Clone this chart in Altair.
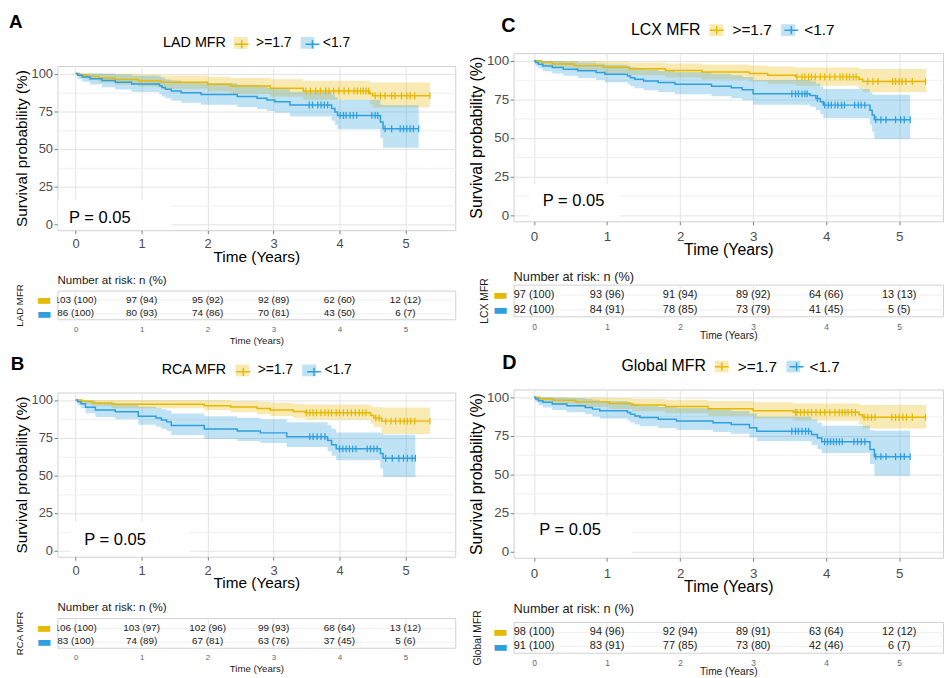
import altair as alt
import pandas as pd

FONT = "Liberation Sans"
GROUPS = [">=1.7", "<1.7"]
YEL, BLU = "#E7B800", "#2E9FDF"
YEL_F, BLU_F = "rgba(231,184,0,0.30)", "rgba(46,159,223,0.30)"
FRAME = "#d0d0d0"
XTICKS = [0, 0.5, 1, 1.5, 2, 2.5, 3, 3.5, 4, 4.5, 5, 5.5]
YTICKS = [0, 12.5, 25, 37.5, 50, 62.5, 75, 87.5, 100]
YEARS = [0, 1, 2, 3, 4, 5]

# ---------------- Panel A : LAD ----------------
A_HI_T = [0, 0.06, 0.18, 0.35, 0.6, 0.95, 1.3, 2.0, 2.35, 2.95, 3.45, 4.46, 4.5]
A_HI_S = [100, 99.0, 98.1, 97.1, 96.1, 95.1, 94.2, 92.8, 91.7, 90.2, 88.4, 86.8, 85.2]
A_HI_LO = [100, 97.1, 95.5, 94.0, 92.6, 91.2, 89.9, 88.1, 86.6, 84.6, 82.6, 80.0, 77.5]
A_HI_UP = [100, 100, 100, 100, 99.8, 99.2, 98.6, 97.8, 97.0, 96.2, 95.2, 94.2, 94.0]
A_HI_END = 5.37
A_LO_T = [0, 0.03, 0.1, 0.22, 0.4, 0.6, 0.85, 1.27, 1.31, 1.36, 1.45, 1.6, 1.9, 2.45, 2.75, 2.9, 3.02, 3.25, 3.88, 3.93, 3.97, 4.62, 4.66]
A_LO_S = [100, 98.8, 97.7, 96.5, 95.3, 94.2, 93.0, 91.9, 90.7, 89.5, 88.4, 87.2, 86.0, 84.8, 83.6, 82.5, 81.3, 79.1, 76.8, 74.5, 72.2, 67.8, 63.3]
A_LO_LO = [100, 96.6, 94.6, 92.7, 90.9, 89.4, 87.8, 86.3, 84.8, 83.4, 82.0, 80.6, 79.2, 77.8, 76.5, 75.2, 73.9, 71.4, 68.6, 65.8, 63.0, 57.0, 50.8]
A_LO_UP = [100, 100, 100, 100, 99.9, 99.3, 98.5, 97.8, 97.0, 96.1, 95.3, 94.4, 93.5, 92.5, 91.5, 90.6, 89.6, 87.8, 86.0, 84.3, 82.6, 79.2, 79.0]
A_LO_END = 5.2
A_HI_CENS = [(88.4, [3.49, 3.56, 3.64, 3.71, 3.79, 3.84, 3.91, 3.99, 4.07, 4.14, 4.22, 4.27, 4.32, 4.36, 4.4, 4.44]),
             (85.2, [4.54, 4.62, 4.69, 4.79, 4.84, 4.94, 5.02, 5.07, 5.14, 5.37])]
A_LO_CENS = [(79.1, [3.54, 3.59, 3.67, 3.72, 3.77, 3.82]),
             (72.2, [4.01, 4.06, 4.1, 4.16, 4.21, 4.26, 4.49, 4.54, 4.58]),
             (63.3, [4.69, 4.79, 4.92, 4.97, 5.02, 5.07, 5.12, 5.2])]
A_RISK_HI = ["103 (100)", "97 (94)", "95 (92)", "92 (89)", "62 (60)", "12 (12)"]
A_RISK_LO = ["86 (100)", "80 (93)", "74 (86)", "70 (81)", "43 (50)", "6 (7)"]
A_P = (-0.1, 4.0)
A_BOX = (-0.27, 1.45, -3.6, 16)

# ---------------- Panel C : LCX ----------------
C_HI_T = [0, 0.1, 0.25, 0.55, 0.95, 1.3, 1.8, 2.3, 2.95, 3.2, 3.58, 4.45, 4.5]
C_HI_S = [100, 99.0, 97.9, 96.9, 95.9, 94.8, 93.8, 92.8, 91.8, 90.7, 89.6, 88.0, 86.6]
C_HI_LO = [100, 97.1, 95.3, 93.6, 92.0, 90.6, 89.2, 87.9, 86.6, 85.2, 83.9, 81.8, 79.8]
C_HI_UP = [100, 100, 100, 99.9, 99.4, 98.9, 98.3, 97.7, 97.0, 96.3, 95.6, 94.9, 94.7]
C_HI_END = 5.37
C_LO_T = [0, 0.02, 0.06, 0.12, 0.25, 0.4, 0.6, 0.85, 0.97, 1.28, 1.32, 1.38, 1.5, 1.7, 1.93, 2.43, 2.7, 2.85, 3.0, 3.78, 3.86, 3.92, 3.96, 4.6, 4.63, 4.66]
C_LO_S = [100, 98.9, 97.8, 96.7, 95.7, 94.6, 93.5, 92.4, 91.3, 90.2, 89.1, 88.0, 86.9, 85.9, 84.8, 83.6, 82.5, 81.3, 78.6, 77.6, 75.6, 73.5, 71.3, 68.0, 64.9, 61.8]
C_LO_LO = [100, 96.7, 95.0, 93.3, 91.8, 90.3, 88.9, 87.5, 86.1, 84.8, 83.5, 82.2, 80.9, 79.7, 78.4, 77.0, 75.8, 74.4, 71.6, 70.3, 67.9, 65.4, 63.0, 58.5, 54.0, 49.3]
C_LO_UP = [100, 100, 100, 100, 99.9, 99.5, 98.9, 98.2, 97.4, 96.6, 95.8, 95.0, 94.2, 93.4, 92.6, 91.6, 90.6, 89.6, 87.5, 86.8, 85.2, 83.4, 81.7, 79.5, 78.3, 78.0]
C_LO_END = 5.15
C_HI_CENS = [(89.6, [3.6, 3.67, 3.71, 3.76, 3.8, 3.85, 3.92, 3.98, 4.05, 4.12, 4.19, 4.23, 4.28, 4.32, 4.37, 4.41]),
             (86.6, [4.57, 4.64, 4.71, 4.91, 4.95, 5.0, 5.04, 5.09, 5.18, 5.36])]
C_LO_CENS = [(78.6, [3.53, 3.58, 3.62, 3.67, 3.71, 3.74]),
             (75.6, [3.88]),
             (71.3, [3.98, 4.03, 4.07, 4.12, 4.16, 4.21, 4.25, 4.39, 4.44, 4.48, 4.53]),
             (61.8, [4.68, 4.75, 4.82, 4.95, 5.02, 5.07, 5.15])]
C_RISK_HI = ["97 (100)", "93 (96)", "91 (94)", "89 (92)", "64 (66)", "13 (13)"]
C_RISK_LO = ["92 (100)", "84 (91)", "78 (85)", "73 (79)", "41 (45)", "5 (5)"]
C_P = (0.12, 9.3)
C_BOX = (-0.07, 1.18, -3.6, 20)

# ---------------- Panel B : RCA ----------------
B_HI_T = [0, 0.1, 0.25, 0.55, 1.95, 2.35, 2.75, 2.95, 3.3, 3.48, 4.47, 4.52, 4.64]
B_HI_S = [100, 99.1, 98.1, 97.2, 96.2, 95.3, 94.3, 93.4, 92.4, 91.5, 89.7, 88.0, 86.0]
B_HI_LO = [100, 97.4, 95.9, 94.6, 93.2, 91.9, 90.6, 89.4, 88.1, 86.9, 84.5, 81.9, 77.4]
B_HI_UP = [100, 100, 100, 100, 99.9, 99.4, 98.8, 98.2, 97.6, 97.0, 95.9, 95.3, 95.0]
B_HI_END = 5.37
B_LO_T = [0, 0.03, 0.08, 0.15, 0.3, 0.6, 0.95, 1.22, 1.3, 1.38, 1.45, 1.95, 2.45, 2.8, 3.2, 3.82, 3.88, 3.95, 4.62, 4.66]
B_LO_S = [100, 98.8, 97.6, 95.2, 93.4, 92.2, 89.2, 88.0, 86.7, 85.5, 83.1, 80.7, 79.4, 78.2, 75.7, 73.1, 70.3, 67.6, 64.5, 61.4]
B_LO_LO = [100, 96.5, 94.5, 91.2, 88.8, 87.3, 83.6, 82.2, 80.8, 79.4, 76.8, 74.2, 72.8, 71.5, 68.8, 66.0, 63.0, 60.0, 54.5, 49.0]
B_LO_UP = [100, 100, 100, 99.8, 98.4, 97.6, 95.5, 94.7, 93.8, 93.0, 91.1, 89.3, 88.2, 87.2, 85.3, 83.3, 81.0, 78.5, 77.8, 77.0]
B_LO_END = 5.15
B_HI_CENS = [(91.5, [3.5, 3.55, 3.6, 3.65, 3.72, 3.78, 3.83, 3.88, 3.95, 4.0, 4.06, 4.12, 4.18, 4.24, 4.3, 4.35, 4.4]),
             (88.0, [4.55, 4.6]),
             (86.0, [4.7, 4.78, 4.85, 4.92, 4.98, 5.03, 5.08, 5.14, 5.37])]
B_LO_CENS = [(75.7, [3.55, 3.6, 3.66, 3.72, 3.78]),
             (67.6, [4.0, 4.05, 4.1, 4.15, 4.2, 4.25, 4.42, 4.47, 4.52, 4.57]),
             (61.4, [4.7, 4.8, 4.9, 4.97, 5.03, 5.1, 5.15])]
B_RISK_HI = ["106 (100)", "103 (97)", "102 (96)", "99 (93)", "68 (64)", "13 (12)"]
B_RISK_LO = ["83 (100)", "74 (89)", "67 (81)", "63 (76)", "37 (45)", "5 (6)"]
B_P = (0.13, 7.4)
B_BOX = (-0.08, 1.73, -3.6, 19)

# ---------------- Panel D : Global ----------------
D_HI_T = [0, 0.08, 0.26, 0.57, 1.03, 1.34, 1.8, 2.38, 3.0, 3.55, 4.45, 4.5]
D_HI_S = [100, 99.0, 98.0, 97.0, 96.0, 95.0, 94.0, 92.6, 91.3, 90.2, 88.6, 87.0]
D_HI_LO = [100, 97.2, 95.4, 93.8, 92.3, 90.9, 89.6, 87.9, 86.2, 84.8, 82.3, 79.8]
D_HI_UP = [100, 100, 100, 99.9, 99.5, 99.0, 98.4, 97.5, 96.8, 96.0, 95.2, 95.0]
D_HI_END = 5.37
D_LO_T = [0, 0.02, 0.06, 0.12, 0.25, 0.45, 0.7, 0.8, 0.9, 1.28, 1.32, 1.38, 1.45, 1.7, 1.95, 2.45, 2.7, 2.95, 3.05, 3.8, 3.88, 3.94, 4.6, 4.66]
D_LO_S = [100, 98.9, 97.8, 96.7, 95.6, 94.5, 93.4, 92.3, 91.2, 90.1, 89.0, 87.9, 86.8, 85.7, 84.6, 83.5, 82.4, 80.2, 78.0, 75.9, 73.6, 71.2, 66.2, 61.5]
D_LO_LO = [100, 96.7, 95.0, 93.3, 91.8, 90.3, 88.9, 87.6, 86.3, 85.0, 83.7, 82.4, 81.2, 80.0, 78.8, 77.5, 76.3, 73.9, 71.6, 69.1, 66.5, 63.8, 56.7, 49.2]
D_LO_UP = [100, 100, 100, 100, 99.9, 99.5, 98.9, 98.3, 97.6, 96.9, 96.1, 95.3, 94.5, 93.7, 92.9, 92.0, 91.1, 89.3, 87.4, 85.6, 83.6, 81.5, 78.6, 78.3]
D_LO_END = 5.15
D_HI_CENS = [(90.2, [3.58, 3.6, 3.65, 3.7, 3.75, 3.8, 3.86, 3.92, 3.98, 4.05, 4.12, 4.18, 4.22, 4.26, 4.3, 4.35, 4.4]),
             (87.0, [4.52, 4.57, 4.62, 4.67, 4.9, 4.95, 5.0, 5.05, 5.1, 5.18, 5.36])]
D_LO_CENS = [(78.0, [3.53, 3.58, 3.62, 3.67, 3.72, 3.76]),
             (71.2, [3.98, 4.02, 4.06, 4.1, 4.14, 4.18, 4.22, 4.38, 4.43, 4.48, 4.53]),
             (61.5, [4.68, 4.75, 4.82, 4.95, 5.02, 5.07, 5.15])]
D_RISK_HI = ["98 (100)", "94 (96)", "92 (94)", "89 (91)", "63 (64)", "12 (12)"]
D_RISK_LO = ["91 (100)", "83 (91)", "77 (85)", "73 (80)", "42 (46)", "6 (7)"]
D_P = (0.07, 13.8)
D_BOX = (-0.24, 1.34, -3.6, 23)

# ---------------- layout constants ----------------
W_L, W_R = 402, 434
XDOM_L = [-0.275, 5.754]
XDOM_R = [-0.28, 5.6]
FS_L = dict(leg_t=14.5, leg_l=14, ax_t=15.5, ax_l=13, p=16.7, letter=19, tab=10, head=11.7, tab_l=8,
            tab_t=9.7, tab_yt=9.8, xlabpad=4, head_off=-3, tab_tpad=2)
FS_R = dict(leg_t=16, leg_l=15.5, ax_t=16, ax_l=13.5, p=16.7, letter=20, tab=11, head=12.9, tab_l=8.5,
            tab_t=10.3, tab_yt=10.5, xlabpad=5, head_off=-6, tab_tpad=0)

MINOR_TEST = "datum.value % 1 != 0"


def curve_rows(t, s, lo, up, end, grp):
    rows = [dict(t=a, s=b, lo=c, up=d, grp=grp) for a, b, c, d in zip(t, s, lo, up)]
    rows.append(dict(t=end, s=s[-1], lo=lo[-1], up=up[-1], grp=grp))
    return rows


def cens_rows(cens, grp):
    return [dict(t=tt, s=lvl, grp=grp) for lvl, ts in cens for tt in ts]


def km_panel(letter, mfr, hi, lo, pval, box, W, H, xdom, fs, leg_xy, let_dxdy):
    curve = pd.DataFrame(curve_rows(*hi[:5], GROUPS[0]) + curve_rows(*lo[:5], GROUPS[1]))
    cens = pd.DataFrame(cens_rows(hi[5], GROUPS[0]) + cens_rows(lo[5], GROUPS[1]))
    pdf = pd.DataFrame({"px": [pval[0]], "py": [pval[1]], "txt": ["P = 0.05"]})
    bdf = pd.DataFrame({"bx": [box[0]], "bx2": [box[1]], "by": [box[2]], "by2": [box[3]]})

    xs = alt.Scale(domain=xdom, nice=False, zero=False)
    ys = alt.Scale(domain=[-4, 105], nice=False, zero=False)
    grid_col = {"condition": {"test": MINOR_TEST, "value": "#f0f0f0"}, "value": "#e3e3e3"}
    tick_col = {"condition": {"test": MINOR_TEST, "value": "transparent"}, "value": "#808080"}
    xax = alt.Axis(values=XTICKS, format="d", labelExpr="datum.value % 1 ? '' : datum.label",
                   labelFont=FONT, labelFontSize=fs["ax_l"], labelColor="#4d4d4d", labelPadding=fs["xlabpad"],
                   labelFlush=False, labelOverlap=False, tickSize=3.5, tickColor=tick_col, tickWidth=1,
                   domain=False, grid=True, gridColor=grid_col,
                   titleFont=FONT, titleFontSize=fs["ax_t"], titleFontWeight="normal", titleColor="black",
                   titlePadding=-1)
    ygrid = {"condition": {"test": "datum.value % 25 != 0", "value": "#f0f0f0"}, "value": "#e3e3e3"}
    ytick = {"condition": {"test": "datum.value % 25 != 0", "value": "transparent"}, "value": "#808080"}
    yax = alt.Axis(values=YTICKS, format="d", labelExpr="datum.value % 25 ? '' : datum.label",
                   labelFont=FONT, labelFontSize=fs["ax_l"], labelColor="#4d4d4d", labelPadding=1.5,
                   labelFlush=False, labelOverlap=False, tickSize=3.5, tickColor=ytick, tickWidth=1,
                   domain=False, grid=True, gridColor=ygrid,
                   titleFont=FONT, titleFontSize=fs["ax_t"], titleFontWeight="normal", titleColor="black",
                   titlePadding=2)

    def X(f):
        return alt.X(f, type="quantitative", scale=xs, axis=xax, title="Time (Years)")

    def Y(f):
        return alt.Y(f, type="quantitative", scale=ys, axis=yax, title="Survival probability (%)")

    common = dict(orient="none", legendX=leg_xy[0], legendY=leg_xy[1], direction="horizontal",
                  title=mfr, titleOrient="left", titleFont=FONT, titleFontSize=fs["leg_t"],
                  titleFontWeight="normal", titleAnchor="middle", titleBaseline="middle",
                  titlePadding=7.5, labelFont=FONT, labelFontSize=fs["leg_l"], labelOffset=8.5,
                  columnPadding=8.5, symbolSize=196, padding=0, offset=0)
    fill_leg = alt.Legend(symbolType="M-1,-0.85H1V0.85H-1Z", symbolStrokeWidth=0, symbolOpacity=1,
                          labelColor="black", titleColor="black", **common)
    stroke_leg = alt.Legend(symbolType="M-1,0H1M0,-0.6V0.6", symbolStrokeWidth=1.5,
                            symbolFillColor="transparent", symbolOpacity=1,
                            labelColor="transparent", titleColor="transparent", **common)
    stroke = alt.Stroke("grp:N", scale=alt.Scale(domain=GROUPS, range=[YEL, BLU]), legend=stroke_leg)
    fill = alt.Fill("grp:N", sort=GROUPS, scale=alt.Scale(range=[YEL_F, BLU_F]), legend=fill_leg)

    wbox = alt.Chart(bdf).mark_rect(color="white").encode(
        x=X("bx"), x2="bx2:Q", y=Y("by"), y2="by2:Q")
    band = alt.Chart(curve).mark_area(interpolate="step-after", opacity=1).encode(
        x=X("t"), y=Y("lo"), y2="up:Q", fill=fill)
    line = alt.Chart(curve).mark_line(interpolate="step-after", strokeWidth=1.5).encode(
        x=X("t"), y=Y("s"), stroke=stroke)
    pts = alt.Chart(cens).mark_point(shape="M0,-1V1", filled=False, size=49, strokeWidth=1.3, opacity=1).encode(
        x=X("t"), y=Y("s"), stroke=stroke)
    ptxt = alt.Chart(pdf).mark_text(align="left", baseline="middle", font=FONT, fontSize=fs["p"],
                                     color="black").encode(x=X("px"), y=Y("py"), text="txt:N")
    return alt.layer(wbox, band, line, pts, ptxt).properties(
        width=W, height=H,
        title=alt.TitleParams(letter, anchor="start", frame="group", font=FONT, fontSize=fs["letter"],
                              fontWeight="bold", color="black", dx=let_dxdy[0], dy=let_dxdy[1], offset=0),
        view=alt.ViewBackground(stroke=FRAME, strokeWidth=1),
    )


def risk_panel(mfr, hi_lab, lo_lab, W, H, xdom, fs, ytpad):
    rows = [dict(t=y, grp=GROUPS[0], lab=l) for y, l in zip(YEARS, hi_lab)] + \
           [dict(t=y, grp=GROUPS[1], lab=l) for y, l in zip(YEARS, lo_lab)]
    df = pd.DataFrame(rows)
    grid_col = {"condition": {"test": MINOR_TEST, "value": "#f3f3f3"}, "value": "#e8e8e8"}
    xax = alt.Axis(values=XTICKS, format="d", labelExpr="datum.value % 1 ? '' : datum.label",
                   labelFont=FONT, labelFontSize=fs["tab_l"], labelColor="#666666", labelPadding=6,
                   labelFlush=False, labelOverlap=False, ticks=False, tickSize=0, domain=False,
                   grid=True, gridColor=grid_col, title="Time (Years)", titleFont=FONT,
                   titleFontSize=fs["tab_t"], titleFontWeight="normal", titleColor="#1a1a1a",
                   titlePadding=fs["tab_tpad"])
    lab_col = {"condition": {"test": "datum.value === '>=1.7'", "value": YEL}, "value": BLU}
    yax = alt.Axis(labelExpr="'\u25ac'", labelFont="DejaVu Sans", labelFontSize=16, labelColor=lab_col,
                   ticks=False, tickSize=0, domain=False, grid=True, gridColor="#f0f0f0", labelPadding=6,
                   title=mfr, titleFont=FONT, titleFontSize=fs["tab_yt"], titleFontWeight="normal",
                   titleColor="#1a1a1a", titlePadding=ytpad)
    return alt.Chart(df).mark_text(clip=True, font=FONT, fontSize=fs["tab"], color="#1a1a1a").encode(
        x=alt.X("t:Q", scale=alt.Scale(domain=xdom, nice=False, zero=False), axis=xax),
        y=alt.Y("grp:N", scale=alt.Scale(type="point", domain=GROUPS, padding=0.57, align=0.6), axis=yax),
        text="lab:N",
    ).properties(
        width=W, height=H,
        title=alt.TitleParams("Number at risk: n (%)", anchor="start", frame="group", font=FONT,
                              fontSize=fs["head"], fontWeight="normal", color="#1a1a1a",
                              offset=fs["head_off"]),
        view=alt.ViewBackground(stroke=FRAME, strokeWidth=1),
    )


def spacer(W, h):
    return alt.Chart(pd.DataFrame({"v": [0]})).mark_point(opacity=0).encode(
        x=alt.X("v:Q", axis=None), y=alt.Y("v:Q", axis=None)
    ).properties(width=W, height=h, view=alt.ViewBackground(stroke=None))


plotA = km_panel("A", "LAD MFR", (A_HI_T, A_HI_S, A_HI_LO, A_HI_UP, A_HI_END, A_HI_CENS),
                 (A_LO_T, A_LO_S, A_LO_LO, A_LO_UP, A_LO_END, A_LO_CENS), A_P, A_BOX,
                 W_L, 166, XDOM_L, FS_L, (106.7, -30.3), (-49, -4.5))
tabA = risk_panel("LAD MFR", A_RISK_HI, A_RISK_LO, W_L, 29, XDOM_L, FS_L, 12.5)
plotB = km_panel("B", "RCA MFR", (B_HI_T, B_HI_S, B_HI_LO, B_HI_UP, B_HI_END, B_HI_CENS),
                 (B_LO_T, B_LO_S, B_LO_LO, B_LO_UP, B_LO_END, B_LO_CENS), B_P, B_BOX,
                 W_L, 166, XDOM_L, FS_L, (105.3, -29.3), (-47.3, 10.5))
tabB = risk_panel("RCA MFR", B_RISK_HI, B_RISK_LO, W_L, 30, XDOM_L, FS_L, 12.5)
plotC = km_panel("C", "LCX MFR", (C_HI_T, C_HI_S, C_HI_LO, C_HI_UP, C_HI_END, C_HI_CENS),
                 (C_LO_T, C_LO_S, C_LO_LO, C_LO_UP, C_LO_END, C_LO_CENS), C_P, C_BOX,
                 W_R, 170, XDOM_R, FS_R, (118.7, -31.4), (-12.4, 13.8))
tabC = risk_panel("LCX MFR", C_RISK_HI, C_RISK_LO, W_R, 32, XDOM_R, FS_R, 3.5)
plotD = km_panel("D", "Global MFR", (D_HI_T, D_HI_S, D_HI_LO, D_HI_UP, D_HI_END, D_HI_CENS),
                 (D_LO_T, D_LO_S, D_LO_LO, D_LO_UP, D_LO_END, D_LO_CENS), D_P, D_BOX,
                 W_R, 170, XDOM_R, FS_R, (109, -31.3), (-11.4, 14.5))
tabD = risk_panel("Global MFR", D_RISK_HI, D_RISK_LO, W_R, 31, XDOM_R, FS_R, 10)

IND = dict(fill="independent", stroke="independent")
left = alt.vconcat(spacer(W_L, 12.3), plotA, spacer(W_L, 60.7), tabA, spacer(W_L, 73.2), plotB,
                   spacer(W_L, 61.8), tabB,
                   spacing=0, bounds="flush").resolve_scale(**IND).resolve_legend(**IND)
right = alt.vconcat(plotC, spacer(W_R, 64), tabC, spacer(W_R, 73.6), plotD, spacer(W_R, 65), tabD,
                    spacing=0, bounds="flush").resolve_scale(**IND).resolve_legend(**IND)

chart = alt.hconcat(left, right, spacing=11).resolve_scale(**IND).resolve_legend(**IND).properties(
    padding={"left": 0, "top": 0, "right": 0, "bottom": 0}, background="white"
).configure(font=FONT)

chart.save("out.html", embed_options={"renderer": "svg", "actions": False})
